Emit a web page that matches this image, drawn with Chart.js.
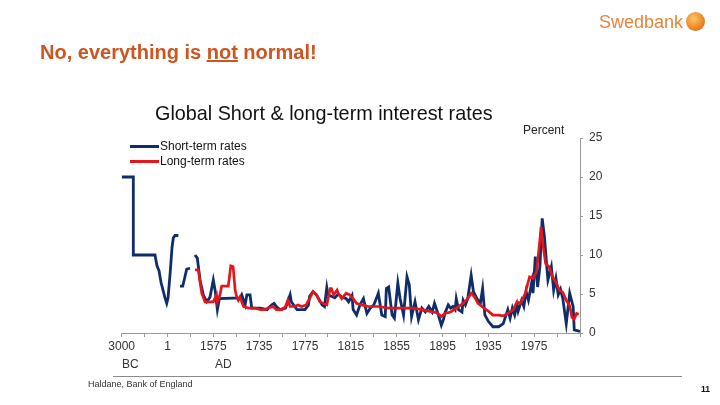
<!DOCTYPE html>
<html>
<head>
<meta charset="utf-8">
<script src="https://cdn.jsdelivr.net/npm/chart.js@4.4.1/dist/chart.umd.min.js"></script>
<style>
  html, body { margin:0; padding:0; background:#fff; }
  body { width:720px; height:405px; position:relative; overflow:hidden; font-family:"Liberation Sans", Arial, sans-serif; }
  #c { position:absolute; left:0; top:0; }
  .t { position:absolute; white-space:nowrap; line-height:1; }
</style>
</head>
<body>
<canvas id="c" width="720" height="405"></canvas>

<div class="t" style="left:599px; top:13px; font-size:18px; color:#E8843A;">Swedbank</div>
<div style="position:absolute; left:686px; top:12px; width:19px; height:19px; border-radius:50%; background:radial-gradient(circle at 40% 35%, #F9C46A 0%, #F08A28 55%, #C8571A 100%);"></div>
<div class="t" style="left:40px; top:42px; font-size:20px; font-weight:bold; color:#CC5520;">No, everything is <span style="text-decoration:underline;">not</span> normal!</div>

<div class="t" style="left:155px; top:104px; font-size:19.8px; color:#111;">Global Short &amp; long-term interest rates</div>
<div class="t" style="left:523px; top:124px; font-size:12px; color:#222;">Percent</div>

<div style="position:absolute; left:130px; top:145px; width:29px; height:3px; background:#0F2D69;"></div>
<div class="t" style="left:160px; top:140px; font-size:12px; color:#111;">Short-term rates</div>
<div style="position:absolute; left:130px; top:160px; width:29px; height:3px; background:#E3161C;"></div>
<div class="t" style="left:160px; top:155px; font-size:12px; color:#111;">Long-term rates</div>

<div class="t" style="left:122px; top:358px; font-size:12px; color:#333;">BC</div>
<div class="t" style="left:215px; top:358px; font-size:12px; color:#333;">AD</div>

<div style="position:absolute; left:113px; top:376px; width:569px; height:1px; background:#8a8a8a;"></div>
<div class="t" style="left:88px; top:380px; font-size:9px; color:#333;">Haldane, Bank of England</div>
<div class="t" style="left:701px; top:385px; font-size:8.5px; font-weight:bold; color:#111;">11</div>

<script>
// Axis tick labels (every other tick carries a label)
const tickYears  = [-3000, 1, 1575, 1735, 1775, 1815, 1855, 1895, 1935, 1975, 2015];
const tickLabels = ['3000', '1', '1575', '1735', '1775', '1815', '1855', '1895', '1935', '1975', ''];
const yTicks = [0, 5, 10, 15, 20, 25];

// Short-term rates (percent); null = gap in the record
const shortYears = [-3000,-2240,-2239,-820,-689,-557,-427,-296,-165,-53,18,87,156,200,259,372,400,430,523,660,774,850,
  945,1024,1117,1230,1347,1460,1573,1581,1589,1596,1668,1674,1686,1692,1703,1709,1736,1742,1743,1746,1748,1750,1753,1758,
  1762,1763,1768,1772,1775,1778,1779,1782,1785,1790,1792,1794,1795,1798,1801,1804,1807,1811,1813,1816,1817,1820,1823,1826,
  1829,1832,1835,1838,1839,1842,1845,1846,1848,1851,1853,1856,1858,1861,1864,1866,1868,1871,1874,1877,1880,1883,1886,1888,
  1891,1894,1896,1897,1900,1902,1904,1906,1907,1909,1912,1913,1915,1917,1920,1922,1925,1928,1930,1932,1935,1939,1944,1948,
  1950,1952,1954,1956,1958,1960,1961,1964,1966,1968,1970,1973,1974,1976,1978,1980,1982,1984,1986,1987,1990,1992,1994,1996,
  1998,2000,2003,2006,2009,2010,2015];
const shortRates = [20,20,10,10,8.6,8.0,6.5,5.5,4.5,3.8,4.5,7.5,11,12.2,12.5,12.5,null,6.0,6.0,8.2,8.3,null,
  10,9.6,6.8,4.9,4.0,4.6,6.8,5.5,3.0,4.4,4.5,4.9,3.6,4.9,4.9,3.2,3.2,3.0,3.2,3.6,3.8,3.4,3.0,3.2,
  4.9,4.0,3.0,3.0,3.0,3.6,4.7,5.3,4.9,3.6,3.4,5.8,4.9,4.7,4.5,5.0,4.6,4.4,4.0,4.8,3.0,2.3,3.6,4.4,
  2.5,3.2,3.6,4.7,5.1,2.3,2.1,5.7,5.9,2.3,1.9,6.4,4.4,2.3,7.2,6.2,2.1,4.0,1.7,3.2,2.7,3.4,2.7,3.8,
  2.5,1.0,1.8,2.5,3.6,3.2,3.4,3.0,4.4,3.0,2.7,4.2,3.6,4.4,7.4,5.3,4.4,3.8,5.7,2.3,1.5,0.8,0.8,1.2,
  2.1,3.0,1.9,3.2,2.3,3.6,2.8,4.2,3.4,5.3,4.2,6.6,5.1,9.8,5.9,8.5,14.7,12.3,8.5,6.8,8.5,5.5,7.0,4.9,
  5.6,4.4,1.2,5.1,3.4,0.4,0.2];

// Long-term rates (percent)
const longYears = [945,1059,1175,1288,1573,1586,1589,1598,1604,1627,1636,1644,1651,1656,1662,1668,1680,1697,1720,1736,
  1740,1743,1747,1750,1755,1758,1760,1762,1766,1769,1772,1776,1779,1782,1785,1788,1791,1794,1797,1798,1800,1803,1804,
  1807,1811,1814,1817,1820,1824,1830,1839,1848,1859,1868,1877,1886,1890,1894,1897,1902,1907,1913,1917,1920,1923,1926,
  1931,1935,1939,1944,1948,1952,1957,1960,1963,1967,1971,1974,1977,1980,1981,1983,1985,1988,1991,1994,1997,2000,2003,
  2006,2008,2010,2012,2014];
const longRates = [8.1,8.1,5.1,4.0,4.0,4.9,4.0,4.9,6.0,6.0,8.6,8.5,5.5,4.7,4.2,4.6,3.4,3.2,3.2,3.0,
  3.0,3.2,3.4,3.0,3.0,3.4,4.2,3.4,3.4,3.6,3.4,3.6,4.4,5.3,4.9,4.0,3.8,3.6,5.7,5.7,4.9,5.5,5.1,
  4.4,5.1,4.9,4.4,3.8,3.6,3.4,3.4,3.2,3.2,3.2,3.0,2.7,2.6,2.1,2.5,2.7,3.2,3.8,4.4,5.1,4.6,3.8,
  3.2,2.8,2.3,2.3,2.2,2.5,3.0,4.0,3.8,5.0,7.2,7.0,7.8,11.9,13.6,11.0,8.9,8.5,7.2,6.5,5.5,5.2,4.2,
  3.5,2.0,1.8,2.5,2.4];

// Piecewise time axis: each labelled year sits on every second tick
function yearToPos(yr) {
  for (let i = 0; i < tickYears.length - 1; i++) {
    const a = tickYears[i], b = tickYears[i + 1];
    if (yr <= b || i === tickYears.length - 2) {
      return 2 * i + 2 * (yr - a) / (b - a);
    }
  }
}
const toPoints = (years, vals) => years.map((yr, i) => ({ x: yearToPos(yr), y: vals[i] }));

const axisGrey = '#9a9a9a';
new Chart(document.getElementById('c'), {
  type: 'line',
  data: {
    datasets: [
      { label: 'Short-term rates', data: toPoints(shortYears, shortRates), borderColor: '#0F2D69',
        borderWidth: 2.8, pointRadius: 0, tension: 0, spanGaps: false, order: 2 },
      { label: 'Long-term rates', data: toPoints(longYears, longRates), borderColor: '#E3161C',
        borderWidth: 2.7, pointRadius: 0, tension: 0, spanGaps: false, order: 1 }
    ]
  },
  options: {
    responsive: false,
    animation: false,
    devicePixelRatio: 1,
    layout: { padding: { left: 121.7, right: 100, top: 138, bottom: 36 } },
    plugins: { legend: { display: false }, tooltip: { enabled: false } },
    scales: {
      x: {
        type: 'linear', min: 0, max: 2 * (tickYears.length - 1),
        afterFit: s => { s.height = 36; },
        afterBuildTicks: s => { s.ticks = Array.from({ length: 2 * (tickYears.length - 1) + 1 }, (_, i) => ({ value: i })); },
        ticks: {
          autoSkip: false, maxRotation: 0, padding: 2,
          color: '#333', font: { family: 'Liberation Sans', size: 12 },
          callback: v => (v % 2 === 0 ? tickLabels[v / 2] : '')
        },
        grid: { display: true, drawOnChartArea: false, drawTicks: true, tickLength: 4, color: axisGrey },
        border: { display: true, color: axisGrey, width: 1 }
      },
      y: {
        position: 'right', min: 0, max: 25,
        afterFit: s => { s.width = 40; },
        afterBuildTicks: s => { s.ticks = yTicks.map(v => ({ value: v })); },
        ticks: { color: '#333', padding: 6, font: { family: 'Liberation Sans', size: 12 } },
        grid: { display: true, drawOnChartArea: false, drawTicks: true, tickLength: 3, color: axisGrey },
        border: { display: true, color: axisGrey, width: 1 }
      }
    }
  }
});
</script>
</body>
</html>
